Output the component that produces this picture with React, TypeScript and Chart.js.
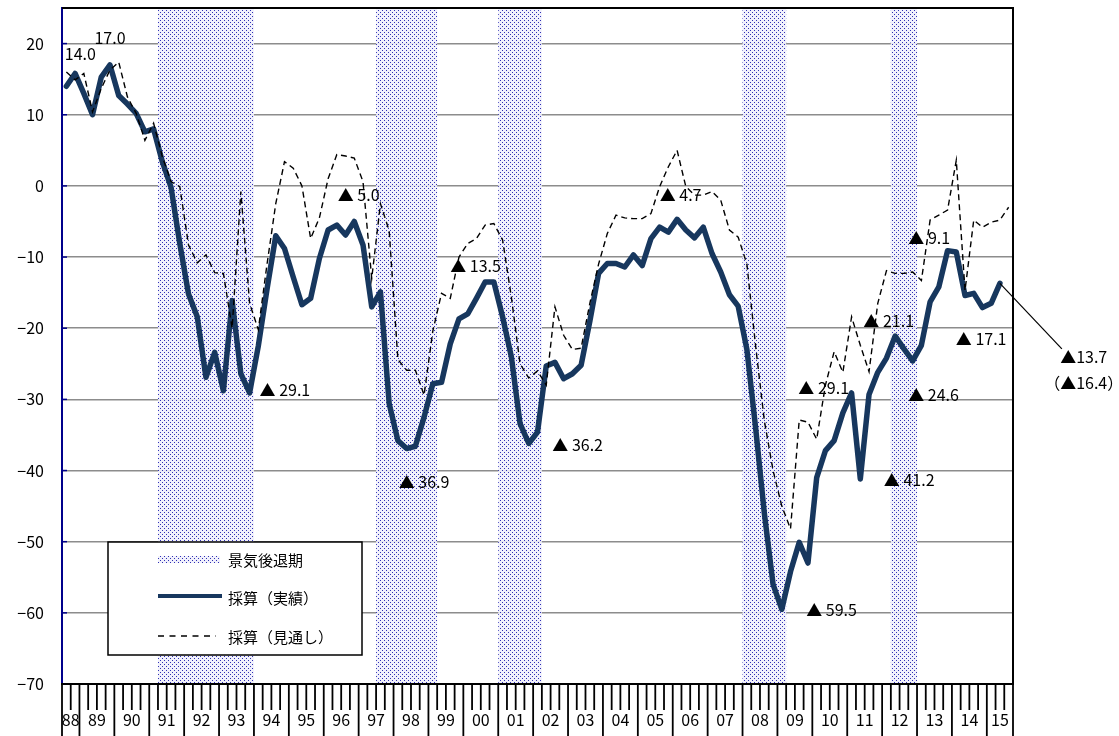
import React, { useEffect, useRef } from 'react';
import { Chart, registerables } from 'chart.js';

Chart.register(...registerables);

const FONT = '"Noto Sans CJK JP", "Noto Sans", sans-serif';

// Fiscal quarters: 1988 Q3 … 2015 Q3
const years = ['88', '89', '90', '91', '92', '93', '94', '95', '96', '97', '98', '99', '00', '01', '02', '03', '04', '05', '06', '07', '08', '09', '10', '11', '12', '13', '14', '15'];
const quarterCounts = [2, 4, 4, 4, 4, 4, 4, 4, 4, 4, 4, 4, 4, 4, 4, 4, 4, 4, 4, 4, 4, 4, 4, 4, 4, 4, 4, 3];
const firstYearStartQuarter = 3;

const categories: string[] = [];
years.forEach((yr, k) => {
  const start = k === 0 ? firstYearStartQuarter : 1;
  for (let q = 0; q < quarterCounts[k]; q++) categories.push(`${yr}Q${start + q}`);
});

// 採算（実績）
const actual = [
  14.0, 15.8, 13.0, 10.0, 15.3, 17.0, 12.7, 11.5, 10.2, 7.6,
  8.0, 3.4, -0.2, -8.1, -15.2, -18.4, -26.9, -23.4, -28.8, -16.1,
  -26.4, -29.1, -22.5, -14.5, -7.0, -8.8, -12.8, -16.7, -15.8, -10.2,
  -6.2, -5.5, -6.9, -5.0, -8.3, -17.0, -14.9, -30.6, -35.8, -36.9,
  -36.6, -32.5, -27.8, -27.6, -22.2, -18.7, -18.0, -15.8, -13.5, -13.5,
  -18.4, -24.0, -33.4, -36.2, -34.6, -25.3, -24.8, -27.1, -26.4, -25.2,
  -19.0, -12.3, -10.9, -10.9, -11.4, -9.7, -11.2, -7.4, -5.8, -6.5,
  -4.7, -6.2, -7.3, -5.8, -9.5, -12.1, -15.3, -16.9, -23.0, -34.0,
  -46.0, -56.0, -59.5, -54.2, -50.1, -53.0, -41.0, -37.2, -35.8, -31.9,
  -29.1, -41.2, -29.3, -26.2, -24.2, -21.1, -22.9, -24.6, -22.4, -16.3,
  -14.2, -9.1, -9.3, -15.4, -15.1, -17.1, -16.5, -13.7,
];

// 採算（見通し）
const forecast = [
  16.0, 14.9, 15.8, 10.4, 13.7, 16.3, 17.4, 12.5, 10.2, 6.4,
  8.8, 4.1, 0.6, -0.1, -8.3, -10.8, -9.7, -12.2, -12.3, -20.0,
  -0.8, -16.5, -20.2, -11.0, -2.5, 3.4, 2.5, 0.0, -7.4, -4.5,
  1.0, 4.4, 4.2, 3.9, 0.6, -13.0, -2.5, -6.3, -24.4, -25.9,
  -25.9, -29.4, -20.4, -15.1, -15.8, -10.0, -8.1, -7.4, -5.5, -5.3,
  -7.6, -15.6, -25.0, -27.0, -26.0, -28.0, -17.0, -21.0, -23.0, -22.8,
  -16.5, -11.0, -6.7, -4.1, -4.5, -4.6, -4.6, -3.9, -0.1, 2.7,
  5.0, -0.1, -1.3, -1.3, -0.8, -2.0, -6.2, -7.2, -11.0, -22.5,
  -33.0, -40.0, -45.0, -48.2, -32.9, -33.2, -35.6, -28.0, -23.3, -26.2,
  -18.4, -22.4, -26.1, -16.5, -11.9, -12.3, -12.3, -12.1, -13.3, -4.8,
  -4.1, -3.4, 3.6, -14.7, -4.8, -5.8, -5.1, -4.8, -3.0,
];

// 景気後退期 (first and last quarter)
const recessions: [string, string][] = [
  ['91Q2', '93Q4'],
  ['97Q3', '99Q1'],
  ['01Q1', '02Q1'],
  ['08Q1', '09Q1'],
  ['12Q2', '12Q4'],
];

const yTicks = [-70, -60, -50, -40, -30, -20, -10, 0, 10, 20];

// value labels: text, position along category axis (index units), value
const annotations: { text: string; at: number; value: number }[] = [
  { text: '14.0', at: 1.6, value: 18.5 },
  { text: '17.0', at: 5.0, value: 20.8 },
  { text: '▲ 29.1', at: 25.05, value: -28.65 },
  { text: '▲ 5.0', at: 33.5, value: -1.3 },
  { text: '▲ 36.9', at: 41.0, value: -41.6 },
  { text: '▲ 13.5', at: 46.9, value: -11.3 },
  { text: '▲ 36.2', at: 58.6, value: -36.4 },
  { text: '▲ 4.7', at: 70.4, value: -1.25 },
  { text: '▲ 29.1', at: 86.8, value: -28.4 },
  { text: '▲ 59.5', at: 87.7, value: -59.6 },
  { text: '▲ 21.1', at: 94.25, value: -19.0 },
  { text: '▲ 41.2', at: 96.6, value: -41.3 },
  { text: '▲ 9.1', at: 98.9, value: -7.3 },
  { text: '▲ 24.6', at: 99.4, value: -29.4 },
  { text: '▲ 17.1', at: 104.85, value: -21.5 },
  { text: '▲13.7', at: 116.6, value: -24.0 },
  { text: '（▲16.4）', at: 116.6, value: -27.7 },
];
const leaderEnd = { at: 114.1, value: -22.9 };

let patternCache: CanvasPattern | null = null;
function getPattern(ctx: CanvasRenderingContext2D): CanvasPattern | string {
  if (patternCache) return patternCache;
  const c = document.createElement('canvas');
  c.width = 4;
  c.height = 4;
  const g = c.getContext('2d');
  if (!g) return '#c8c8ee';
  g.fillStyle = 'rgba(240,240,252,0.9)';
  g.fillRect(0, 0, 4, 4);
  g.fillStyle = '#3030b4';
  g.fillRect(0, 0, 1, 1);
  g.fillRect(2, 2, 1, 1);
  const p = ctx.createPattern(c, 'repeat');
  if (p) patternCache = p;
  return p || '#c8c8ee';
}

const decorPlugin = {
  id: 'decor',
  beforeDatasetsDraw(chart: any) {
    const { ctx, chartArea: ca, scales } = chart;
    const x = scales.x;
    const step = x.getPixelForValue(1) - x.getPixelForValue(0);
    ctx.save();
    ctx.fillStyle = getPattern(ctx);
    recessions.forEach(([a, b]) => {
      const ia = categories.indexOf(a);
      const ib = categories.indexOf(b);
      const x0 = x.getPixelForValue(ia) - step / 2;
      const x1 = x.getPixelForValue(ib) + step / 2;
      ctx.fillRect(x0, ca.top, x1 - x0, ca.bottom - ca.top);
    });
    ctx.restore();
  },
  afterDraw(chart: any) {
    const { ctx, chartArea: ca, scales } = chart;
    const x = scales.x;
    const y = scales.y;
    const step = x.getPixelForValue(1) - x.getPixelForValue(0);
    const x0 = x.getPixelForValue(0);
    ctx.save();

    // frame
    ctx.strokeStyle = '#000';
    ctx.lineWidth = 2;
    ctx.beginPath();
    ctx.moveTo(ca.left, ca.top);
    ctx.lineTo(ca.right, ca.top);
    ctx.lineTo(ca.right, ca.bottom);
    ctx.stroke();
    ctx.beginPath();
    ctx.moveTo(ca.left - 1, ca.bottom);
    ctx.lineTo(ca.right + 1, ca.bottom);
    ctx.stroke();

    // y inner ticks
    ctx.strokeStyle = '#00008b';
    ctx.lineWidth = 1.5;
    yTicks.forEach((v) => {
      if (v === -70) return;
      const py = y.getPixelForValue(v);
      ctx.beginPath();
      ctx.moveTo(ca.left, py);
      ctx.lineTo(ca.left + 5, py);
      ctx.stroke();
    });

    // x ticks and year labels
    ctx.strokeStyle = '#000';
    ctx.lineWidth = 1.8;
    ctx.fillStyle = '#000';
    ctx.font = `16px ${FONT}`;
    ctx.textAlign = 'center';
    ctx.textBaseline = 'middle';
    let idx = 0;
    const bottomEdge = chart.height;
    years.forEach((yr, k) => {
      const n = quarterCounts[k];
      const s = x.getPixelForValue(idx) - step / 2;
      const e = x.getPixelForValue(idx + n - 1) + step / 2;
      ctx.beginPath();
      ctx.moveTo(s, ca.bottom);
      ctx.lineTo(s, bottomEdge);
      ctx.stroke();
      for (let q = 1; q < n; q++) {
        const t = x.getPixelForValue(idx + q) - step / 2;
        ctx.beginPath();
        ctx.moveTo(t, ca.bottom);
        ctx.lineTo(t, ca.bottom + 26);
        ctx.stroke();
      }
      ctx.fillText(yr, (s + e) / 2, ca.bottom + 36);
      idx += n;
    });
    const lastEdge = x.getPixelForValue(categories.length - 1) + step / 2;
    ctx.beginPath();
    ctx.moveTo(lastEdge, ca.bottom);
    ctx.lineTo(lastEdge, bottomEdge);
    ctx.stroke();

    // legend
    const lx = ca.left + 46;
    const ly = ca.bottom - 142;
    ctx.fillStyle = '#fff';
    ctx.fillRect(lx, ly, 254, 113);
    ctx.strokeStyle = '#000';
    ctx.lineWidth = 1.5;
    ctx.strokeRect(lx, ly, 254, 113);
    ctx.fillStyle = getPattern(ctx);
    ctx.fillRect(lx + 50, ly + 14, 62, 7);
    ctx.strokeStyle = '#17375e';
    ctx.lineWidth = 4;
    ctx.beginPath();
    ctx.moveTo(lx + 50, ly + 54);
    ctx.lineTo(lx + 114, ly + 54);
    ctx.stroke();
    ctx.strokeStyle = '#000';
    ctx.lineWidth = 1.5;
    ctx.setLineDash([6, 5.5]);
    ctx.beginPath();
    ctx.moveTo(lx + 50, ly + 94);
    ctx.lineTo(lx + 108, ly + 94);
    ctx.stroke();
    ctx.setLineDash([]);
    ctx.fillStyle = '#000';
    ctx.font = `15px ${FONT}`;
    ctx.textAlign = 'left';
    ctx.fillText('景気後退期', lx + 120, ly + 18);
    ctx.fillText('採算（実績）', lx + 120, ly + 56);
    ctx.fillText('採算（見通し）', lx + 120, ly + 95);

    // value labels
    ctx.font = `16px ${FONT}`;
    ctx.textAlign = 'center';
    ctx.textBaseline = 'middle';
    annotations.forEach((a) => {
      ctx.fillText(a.text, x0 + a.at * step, y.getPixelForValue(a.value));
    });

    // leader line for latest value
    const li = actual.length - 1;
    ctx.strokeStyle = '#000';
    ctx.lineWidth = 1.2;
    ctx.beginPath();
    ctx.moveTo(x.getPixelForValue(li), y.getPixelForValue(actual[li]));
    ctx.lineTo(x0 + leaderEnd.at * step, y.getPixelForValue(leaderEnd.value));
    ctx.stroke();

    ctx.restore();
  },
};

export default function App() {
  const ref = useRef<HTMLCanvasElement | null>(null);

  useEffect(() => {
    document.body.style.margin = '0';
    const canvas = ref.current;
    if (!canvas) return;
    Chart.defaults.font.family = FONT;
    const chart = new Chart(canvas, {
      type: 'line',
      data: {
        labels: categories,
        datasets: [
          {
            label: '採算（見通し）',
            data: forecast,
            borderColor: '#000',
            borderWidth: 1.4,
            borderDash: [6, 4],
            pointRadius: 0,
            fill: false,
            tension: 0,
          },
          {
            label: '採算（実績）',
            data: actual,
            borderColor: '#17375e',
            borderWidth: 5.5,
            pointRadius: 0,
            fill: false,
            tension: 0,
            borderJoinStyle: 'round',
            borderCapStyle: 'round',
          },
        ],
      },
      options: {
        responsive: false,
        animation: false,
        layout: { padding: { top: 8, right: 106, left: 0, bottom: 0 } },
        plugins: {
          legend: { display: false },
          tooltip: { enabled: false },
        },
        scales: {
          x: {
            type: 'category',
            offset: true,
            afterFit: (s: any) => {
              s.height = 52;
              s.paddingLeft = 0;
              s.paddingRight = 0;
              s.paddingTop = 0;
              s.paddingBottom = 0;
            },
            ticks: { display: false },
            grid: { display: false, drawTicks: false },
            border: { display: false },
          },
          y: {
            min: -70,
            max: 25,
            afterFit: (s: any) => {
              s.width = 62;
              s.paddingTop = 0;
              s.paddingBottom = 0;
              s.paddingLeft = 0;
              s.paddingRight = 0;
            },
            afterBuildTicks: (s: any) => {
              s.ticks = yTicks.map((v) => ({ value: v }));
            },
            ticks: {
              padding: 18,
              color: '#000',
              font: { family: FONT, size: 16 },
              callback: (v: any) => (Number(v) < 0 ? '−' + Math.abs(Number(v)) : String(v)),
            },
            grid: { color: '#8c8c8c', lineWidth: 1.5, drawTicks: false },
            border: { color: '#00008b', width: 2 },
          },
        },
      } as any,
      plugins: [decorPlugin],
    });
    return () => chart.destroy();
  }, []);

  return (
    <div style={{ width: 1119, height: 736 }}>
      <canvas ref={ref} width={1119} height={736} style={{ display: 'block' }} />
    </div>
  );
}
